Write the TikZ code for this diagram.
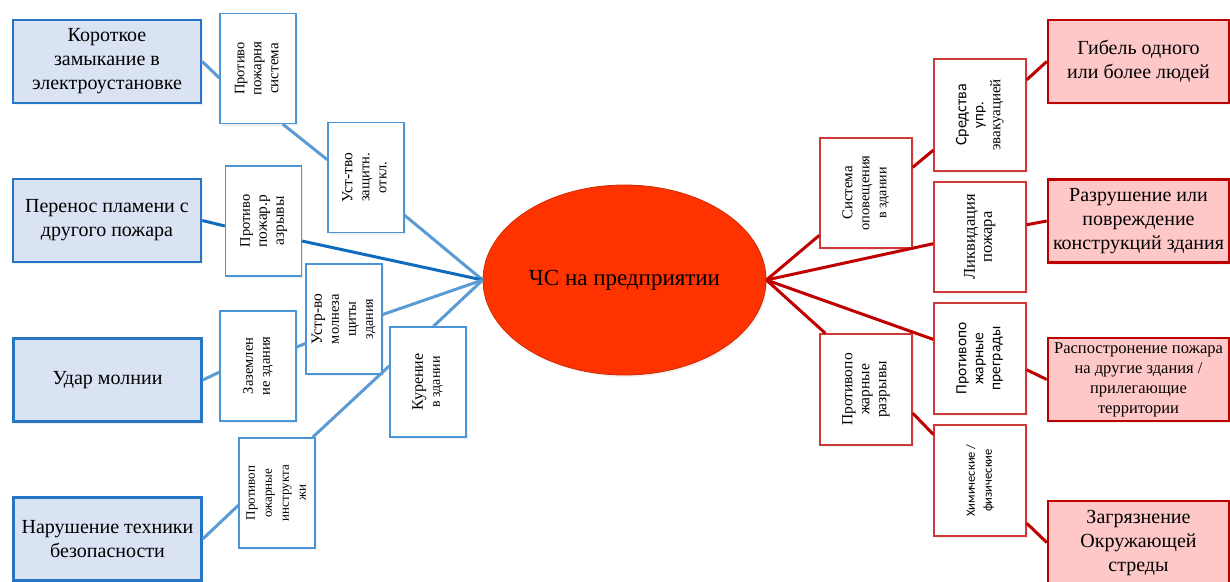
\documentclass[tikz,border=0pt]{standalone}
\usepackage{fontspec}
\usepackage{graphicx}
\setmainfont{Liberation Serif}
\newfontfamily\sansf{Carlito}
\usetikzlibrary{shapes.geometric,calc,shadows}
\definecolor{blueF}{HTML}{DAE3F3}
\definecolor{blueB}{HTML}{2576C6}
\definecolor{blueS}{HTML}{4A94D8}
\definecolor{blueL}{HTML}{5B9BD5}
\definecolor{blueD}{HTML}{0F6CBD}
\definecolor{redF}{HTML}{FFC8C8}
\definecolor{redB}{HTML}{C00000}
\definecolor{redS}{HTML}{D03838}
\definecolor{redL}{HTML}{C00000}
\definecolor{ellF}{HTML}{FF3300}
\definecolor{ellB}{HTML}{D02A00}
\renewcommand\arraystretch{1.42}
\newcommand\myvt[1]{\rotatebox{90}{\begin{tabular}{@{}c@{}}#1\end{tabular}}}
\newcommand\fs[1]{\fontsize{#1}{#1}\selectfont}
\begin{document}
\begin{tikzpicture}[x=1pt,y=-1pt,
  shd/.style={drop shadow={opacity=0.12,shadow xshift=1.5pt,shadow yshift=-2pt}},
  lbox/.style={shd,draw=blueB,line width=2.5pt,fill=blueF,minimum width=188,minimum height=83,inner sep=0,align=center,font=\fontsize{20}{24}\selectfont},
  sbox/.style={shd,draw=blueS,line width=1.3pt,fill=white,minimum width=76,minimum height=110,inner sep=0},
  rbox/.style={shd,draw=redB,line width=2.5pt,fill=redF,minimum width=181,minimum height=83,inner sep=0,align=center,font=\fontsize{20}{24}\selectfont},
  rsbox/.style={shd,draw=redS,line width=1.3pt,fill=white,minimum width=92,minimum height=110,inner sep=0},
  bl/.style={draw=blueL,line width=3pt},
  bd/.style={draw=blueD,line width=3pt},
  rl/.style={draw=redL,line width=3pt}]
\useasboundingbox (0,0) rectangle (1230,581);
\fill[white] (0,0) rectangle (1230,581);
% central ellipse
\node[shd,ellipse,draw=ellB,line width=0.8pt,fill=ellF,minimum width=283,minimum height=190,inner sep=0,font=\fontsize{23}{26}\selectfont] (E0) at (624.5,280) {ЧС на предприятии};
% left big boxes
\node[lbox] (L1) at (107,61.5) {Короткое\\замыкание в\\электроустановке};
\node[lbox] (L2) at (107,220.5) {Перенос пламени с\\другого пожара};
\node[lbox] (L3) at (107.5,380) {Удар молнии};
\node[lbox] (L4) at (107.5,539) {Нарушение техники\\безопасности};
% left small boxes
\node[sbox] (A) at (258,68.5) {\myvt{\fs{14.5}Противо\\\fs{15}пожарня\\\fs{15}система}};
\node[sbox] (B) at (366,177.5) {\myvt{\fs{15.5}Уст-тво\\\fs{14.5}защитн.\\\fs{14.5}откл.}};
\node[sbox] (C) at (263.5,221) {\myvt{\fs{14.5}Противо\\\fs{15.5}пожар.р\\\fs{15.5}азрывы}};
\node[sbox] (D) at (258,366) {\myvt{\fs{14.5}Заземлен\\\fs{14.5}ие здания}};
\node[sbox] (Eb) at (344,319) {\myvt{\fs{15.5}Устр-во\\\fs{14.5}молнеза\\\fs{14.5}щиты\\\fs{14}здания}};
\node[sbox] (F) at (428,382) {\myvt{\fs{16}Курение\\\fs{14}в здании}};
\node[sbox] (G) at (277,493) {\myvt{\fs{13}Противоп\\\fs{13}ожарные\\\fs{13}инструкта\\\fs{13}жи}};
% right big boxes
\node[rbox] (R1) at (1138.5,61.5) {Гибель одного\\или более людей};
\node[rbox] (R2) at (1138.5,221) {Разрушение или\\повреждение\\конструкций здания};
\node[rbox,font=\fontsize{16.5}{20}\selectfont] (R3) at (1138.5,379.5) {Распостронение пожара\\на другие здания /\\прилегающие\\территории};
\node[rbox] (R4) at (1138.5,542.5) {Загрязнение\\Окружающей\\стреды};
% right small boxes
\node[rsbox] (H) at (866,193) {\myvt{\fs{15}Система\\\fs{14.5}оповещения\\\fs{14}в здании}};
\node[rsbox,minimum height=112] (I) at (980,115) {\myvt{\sansf\fs{16}Средства\\\sansf\fs{15}упр.\\\fs{15}эвакуацией}};
\node[rsbox] (J) at (980,237) {\myvt{\fs{16.5}Ликвидация\\\fs{16.5}пожара}};
\node[rsbox,minimum height=111] (K) at (980,358.5) {\myvt{\sansf\fs{15.5}Противопо\\\sansf\fs{15.5}жарные\\\sansf\fs{15.5}преграды}};
\node[rsbox,minimum height=111] (L) at (866,389.5) {\myvt{\fs{15.5}Противопо\\\fs{15.5}жарные\\\fs{15.5}разрывы}};
\node[rsbox,minimum height=111] (M) at (980,480.5) {\myvt{\sansf\fs{12.5}Химические /\\\sansf\fs{12.5}физические}};
% left connectors
\draw[bl] (L1.east) -- ($(A.north west)!0.585!(A.south west)$);
\draw[bl] ($(A.south west)!0.82!(A.south east)$) -- ($(B.north west)!0.34!(B.south west)$);
\draw[bl] ($(B.north east)!0.84!(B.south east)$) -- (E0.west);
\draw[bd] (L2.east) -- ($(C.north west)!0.545!(C.south west)$);
\draw[bd] ($(C.north east)!0.68!(C.south east)$) -- (E0.west);
\draw[bl] (L3.east) -- ($(D.north west)!0.555!(D.south west)$);
\draw[bl] ($(D.north east)!0.33!(D.south east)$) -- ($(Eb.north west)!0.72!(Eb.south west)$);
\draw[bl] ($(Eb.north east)!0.46!(Eb.south east)$) -- (E0.west);
\draw[bl] (L4.east) -- ($(G.north west)!0.61!(G.south west)$);
\draw[bl] ($(G.north west)!0.96!(G.north east)$) -- ($(F.north west)!0.355!(F.south west)$);
\draw[bl] ($(F.north west)!0.57!(F.north east)$) -- (E0.west);
% right connectors
\draw[rl] (E0.east) -- ($(H.north west)!0.88!(H.south west)$);
\draw[rl] ($(H.north east)!0.27!(H.south east)$) -- ($(I.north west)!0.81!(I.south west)$);
\draw[rl] ($(I.north east)!0.19!(I.south east)$) -- (R1.west);
\draw[rl] (E0.east) -- ($(J.north west)!0.56!(J.south west)$);
\draw[rl] ($(J.north east)!0.39!(J.south east)$) -- (R2.west);
\draw[rl] (E0.east) -- ($(K.north west)!0.33!(K.south west)$);
\draw[rl] (E0.east) -- ($(L.north west)!0.065!(L.north east)$);
\draw[rl] ($(K.north east)!0.6!(K.south east)$) -- (R3.west);
\draw[rl] ($(L.north east)!0.71!(L.south east)$) -- ($(M.north west)!0.09!(M.south west)$);
\draw[rl] ($(M.north east)!0.88!(M.south east)$) -- (R4.west);
\end{tikzpicture}
\end{document}
